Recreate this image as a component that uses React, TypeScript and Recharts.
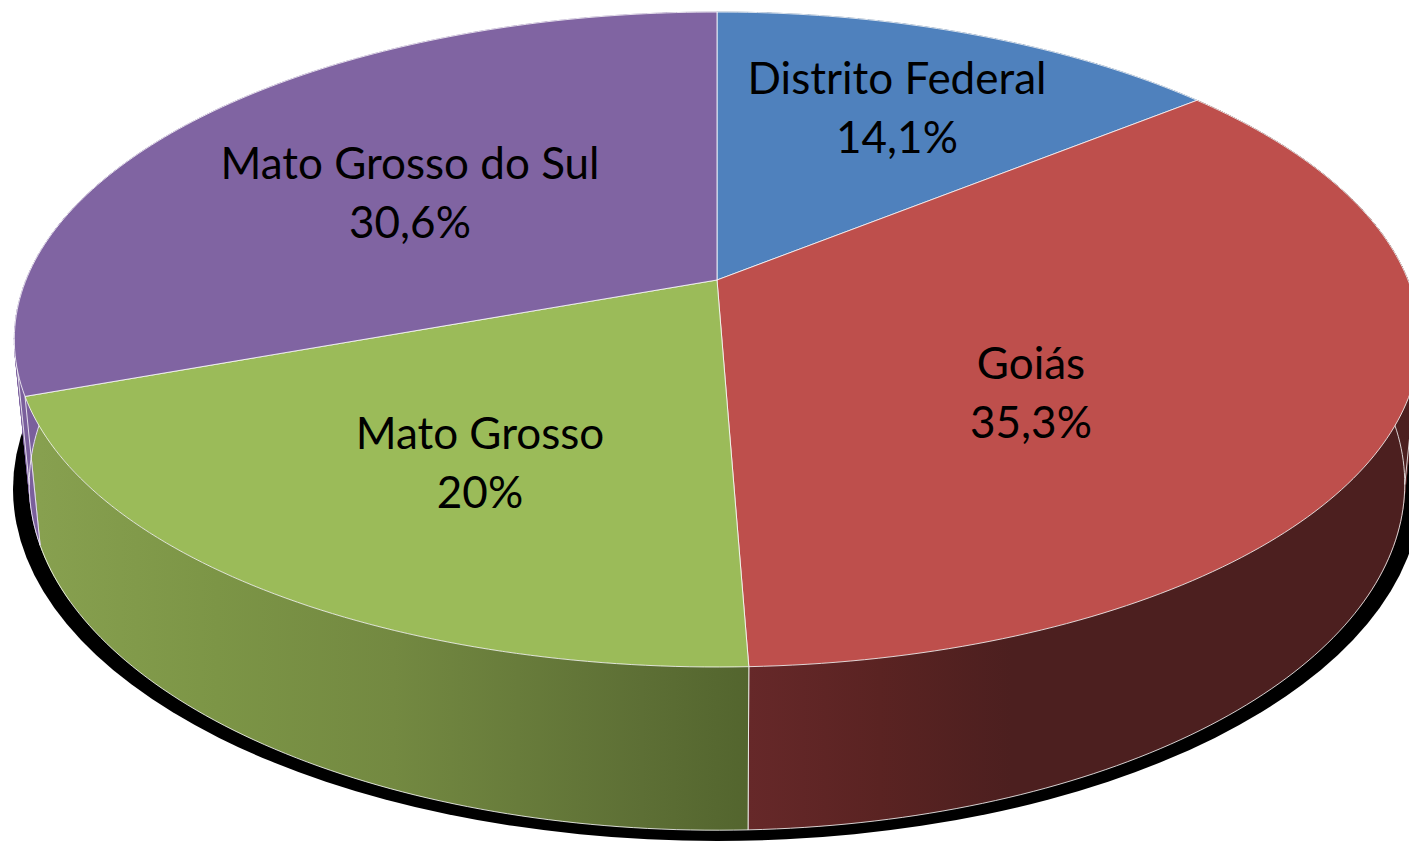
import React from "react";
import { PieChart, Pie } from "recharts";

const STATES = ["Distrito Federal", "Goiás", "Mato Grosso", "Mato Grosso do Sul"];
const SHARES = [14.1, 35.3, 20, 30.6];
const SHARE_LABELS = ["14,1%", "35,3%", "20%", "30,6%"];

const TOP_COLORS = ["#4F81BD", "#BE4F4C", "#9BBB59", "#8064A2"];
// side wall gradients, left to right: [offset, colour]
const WALL_STOPS: [number, string][][] = [
  [[0, "#3A5F8C"], [1, "#3A5F8C"]],
  [[0, "#662829"], [0.2, "#5A2322"], [0.4, "#4C1F1F"], [1, "#4C1F1F"]],
  [[0, "#87A04F"], [0.25, "#7C9546"], [0.5, "#738941"], [0.85, "#5D6F35"], [1, "#53652E"]],
  [[0, "#7A5F9C"], [1, "#7A5F9C"]],
];
const WALL_X: [number, number][] = [
  [717, 1197],
  [748, 1409],
  [40, 748],
  [14, 717],
];

const data = STATES.map((state, i) => ({
  state,
  share: SHARES[i],
  shareLabel: SHARE_LABELS[i],
}));

const W = 1409;
const H = 841;
const CX = 717;
const CY = 280;
const RADIUS = 691;

// the disc is seen in perspective, so the apex sits above the ellipse centre
const PERSP = 0.1817;
const TILT = -265.8;
const BOTTOM_W = 1.021;
const BOTTOM_Y = 431;
// where the side wall's silhouette runs from the top rim to the bottom rim
const SILHOUETTE = [-10.4, -169.6];

const project = (deg: number, bottom: boolean, r = RADIUS) => {
  const u = Math.cos((deg * Math.PI) / 180);
  const v = Math.sin((deg * Math.PI) / 180);
  const w = (bottom ? BOTTOM_W : 1) + PERSP * v;
  return {
    x: CX + (r * u) / w,
    y: (TILT * v + (bottom ? BOTTOM_Y : CY)) / w,
  };
};

const arcAngles = (from: number, to: number) => {
  const steps = Math.max(2, Math.ceil(Math.abs(to - from)));
  const out: number[] = [];
  for (let i = 0; i <= steps; i++) out.push(from + ((to - from) * i) / steps);
  return out;
};

const pt = (p: { x: number; y: number }) => `${p.x.toFixed(2)},${p.y.toFixed(2)}`;

const EDGE = { stroke: "#fff", strokeOpacity: 0.8, strokeWidth: 1, strokeLinejoin: "round" as const };

const TopSlice = (props: any) => {
  const { startAngle, endAngle, outerRadius, index } = props;
  const pts = arcAngles(startAngle, endAngle).map((a) => pt(project(a, false, outerRadius)));
  return (
    <path
      d={`M${CX},${CY}L${pts.join("L")}Z`}
      fill={TOP_COLORS[index]}
      {...EDGE}
    />
  );
};

const WallSlice = (props: any) => {
  const { startAngle, endAngle, outerRadius, index } = props;
  const angles = arcAngles(startAngle, endAngle);
  const id = `wall-${index}`;
  const edge = (a: number) =>
    `M${pt(project(a, false, outerRadius))}L${pt(project(a, true, outerRadius))}`;
  const topRim = angles.map((a) => pt(project(a, false, outerRadius)));
  const bottomRim = angles.map((a) => pt(project(a, true, outerRadius)));
  const sides = [startAngle, endAngle].concat(
    SILHOUETTE.filter((a) => a < startAngle && a > endAngle)
  );
  // near the sides the rims cross, so that stretch of wall is filled strip by strip
  const nearSide = angles.slice(1).map((a, i) => [angles[i], a]).filter(
    ([a]) => Math.sin((a * Math.PI) / 180) > -0.5
  );
  return (
    <g>
      <defs>
        <linearGradient
          id={id}
          gradientUnits="userSpaceOnUse"
          x1={WALL_X[index][0]}
          x2={WALL_X[index][1]}
          y1={0}
          y2={0}
        >
          {WALL_STOPS[index].map(([o, c]) => (
            <stop key={o} offset={o} stopColor={c} />
          ))}
        </linearGradient>
      </defs>
      {/* hard black drop shadow sits under everything */}
      {index === 0 && <ellipse cx={CX} cy={489} rx={704} ry={352} fill="#000" />}
      <path
        d={`M${topRim.concat(bottomRim.slice().reverse()).join("L")}Z`}
        fill={`url(#${id})`}
      />
      {nearSide.map(([a, b]) => (
        <path
          key={a}
          d={`M${pt(project(a, false, outerRadius))}L${pt(project(b, false, outerRadius))}L${pt(
            project(b, true, outerRadius)
          )}L${pt(project(a, true, outerRadius))}Z`}
          fill={`url(#${id})`}
          stroke={`url(#${id})`}
          strokeWidth={0.8}
        />
      ))}
      <path d={`M${bottomRim.join("L")}`} fill="none" {...EDGE} />
      <path d={sides.map(edge).join("")} fill="none" {...EDGE} />
    </g>
  );
};

const LABEL_POS = [
  { x: 897, y: 77 },
  { x: 1031, y: 362 },
  { x: 480, y: 432 },
  { x: 410, y: 162 },
];

const SliceLabel = (props: any) => {
  const { index, payload } = props;
  const pos = LABEL_POS[index];
  const item = payload?.state ? payload : data[index];
  return (
    <g fontFamily="Lato, sans-serif" fontSize={44} fill="#000" textAnchor="middle">
      <text x={pos.x} y={pos.y} dominantBaseline="central">
        {item.state}
      </text>
      <text x={pos.x} y={pos.y + 59} dominantBaseline="central">
        {item.shareLabel}
      </text>
    </g>
  );
};

export default function App() {
  return (
    <div style={{ width: W, height: H, overflow: "hidden", background: "#fff" }}>
      <style>{`body{margin:0;overflow:hidden}`}</style>
      <PieChart width={W} height={H} margin={{ top: 0, right: 0, bottom: 0, left: 0 }}>
        <Pie
          data={data}
          dataKey="share"
          nameKey="state"
          cx={CX}
          cy={CY}
          innerRadius={0}
          outerRadius={RADIUS}
          startAngle={90}
          endAngle={-270}
          shape={WallSlice}
          label={false}
          labelLine={false}
          isAnimationActive={false}
        />
        <Pie
          data={data}
          dataKey="share"
          nameKey="state"
          cx={CX}
          cy={CY}
          innerRadius={0}
          outerRadius={RADIUS}
          startAngle={90}
          endAngle={-270}
          shape={TopSlice}
          label={SliceLabel}
          labelLine={false}
          isAnimationActive={false}
        />
      </PieChart>
    </div>
  );
}
